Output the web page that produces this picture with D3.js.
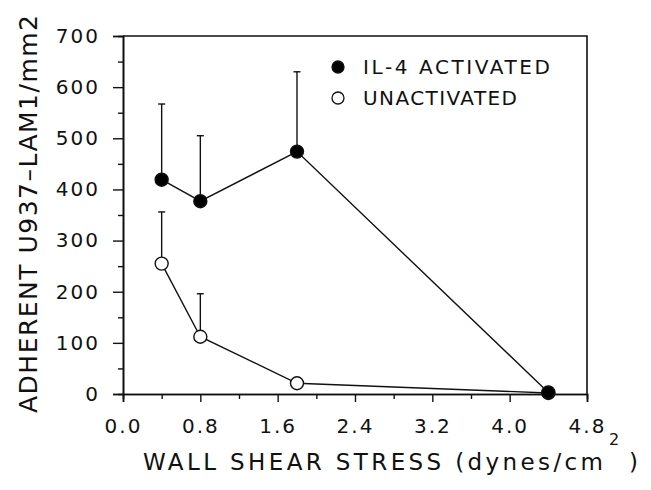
<!DOCTYPE html>
<html>
<head>
<meta charset="utf-8">
<script src="https://cdn.jsdelivr.net/npm/d3@7"></script>
<style>
  body { margin: 0; background: #fff; }
  svg { display: block; }
  text { font-family: "DejaVu Sans", sans-serif; fill: #111; }
</style>
</head>
<body>
<div id="chart"></div>
<script>
// shear stress (dynes/cm2)
const stress = [0.4, 0.8, 1.8, 4.4];
// adherent cells / mm2, mean and upper error bar
const activated = [419, 377, 474, 3];
const activatedErr = [567, 505, 630, 3];
const unactivated = [255, 112, 21, 2];
const unactivatedErr = [356, 196, 21, 2];
const xTicks = [0.0, 0.8, 1.6, 2.4, 3.2, 4.0, 4.8];
const yTicks = [0, 100, 200, 300, 400, 500, 600, 700];

const width = 651, height = 490;
const margin = { top: 36, right: 64, bottom: 96, left: 123 };
const innerW = width - margin.left - margin.right;
const innerH = height - margin.top - margin.bottom;

const svg = d3.select('#chart').append('svg')
  .attr('width', width)
  .attr('height', height);

const g = svg.append('g')
  .attr('transform', `translate(${margin.left},${margin.top})`);

const x = d3.scaleLinear().domain([0, 4.8]).range([0, innerW]);
const y = d3.scaleLinear().domain([0, 700]).range([innerH, 0]);

// frame: top and right
g.append('path')
  .attr('d', `M0,0 H${innerW} V${innerH}`)
  .attr('fill', 'none')
  .attr('stroke', '#111')
  .attr('stroke-width', 1.6);

// minor ticks
const xAxisMinor = d3.axisBottom(x).tickValues(d3.range(0.4, 4.8, 0.8)).tickSize(5).tickFormat('');
const yAxisMinor = d3.axisLeft(y).tickValues(d3.range(50, 700, 100)).tickSize(5).tickFormat('');

const xAxis = d3.axisBottom(x).tickValues(xTicks).tickSize(8).tickPadding(17)
  .tickFormat(d3.format('.1f'));
const yAxis = d3.axisLeft(y).tickValues(yTicks).tickSize(10).tickPadding(13)
  .tickFormat(d3.format('d'));

function styleAxis(sel) {
  sel.select('.domain').attr('stroke', '#111').attr('stroke-width', 1.6);
  sel.selectAll('line').attr('stroke', '#111').attr('stroke-width', 1.4);
  sel.selectAll('text')
    .style('font-size', '20px')
    .style('letter-spacing', '2px')
    .attr('fill', '#1a1a1a');
}

g.append('g').attr('transform', `translate(0,${innerH})`).call(xAxisMinor).call(styleAxis);
g.append('g').call(yAxisMinor).call(styleAxis);
g.append('g').attr('transform', `translate(0,${innerH})`).call(xAxis).call(styleAxis);
g.append('g').call(yAxis).call(styleAxis);

// series
const series = [
  { name: 'IL-4 ACTIVATED', values: activated, err: activatedErr, fill: '#000', len: 187 },
  { name: 'UNACTIVATED', values: unactivated, err: unactivatedErr, fill: '#fff', len: 154 }
];

const line = d3.line()
  .x((d, i) => x(stress[i]))
  .y(d => y(d));

const capW = 3.5;

series.slice().reverse().forEach(s => {
  const sg = g.append('g');
  sg.append('path')
    .datum(s.values)
    .attr('d', line)
    .attr('fill', 'none')
    .attr('stroke', '#111')
    .attr('stroke-width', 1.4);

  s.values.forEach((v, i) => {
    if (s.err[i] > v + 1) {
      sg.append('line')
        .attr('x1', x(stress[i])).attr('x2', x(stress[i]))
        .attr('y1', y(v)).attr('y2', y(s.err[i]))
        .attr('stroke', '#111').attr('stroke-width', 1.4);
      sg.append('line')
        .attr('x1', x(stress[i]) - capW).attr('x2', x(stress[i]) + capW)
        .attr('y1', y(s.err[i])).attr('y2', y(s.err[i]))
        .attr('stroke', '#111').attr('stroke-width', 1.4);
    }
  });

  sg.selectAll('circle')
    .data(s.values)
    .enter().append('circle')
    .attr('cx', (d, i) => x(stress[i]))
    .attr('cy', d => y(d))
    .attr('r', 6.5)
    .attr('fill', s.fill)
    .attr('stroke', '#111')
    .attr('stroke-width', 1.4);
});

// legend
const legend = g.append('g').attr('transform', `translate(${338 - margin.left},${67 - margin.top})`);
series.forEach((s, i) => {
  const row = legend.append('g').attr('transform', `translate(0,${i * 31})`);
  row.append('circle')
    .attr('r', 6)
    .attr('fill', s.fill)
    .attr('stroke', '#111')
    .attr('stroke-width', 1.3);
  row.append('text')
    .attr('x', 25)
    .attr('y', 7)
    .attr('textLength', s.len)
    .attr('lengthAdjust', 'spacing')
    .style('font-size', '20px')
    .text(s.name);
});

// axis titles
const xTitle = svg.append('text')
  .attr('y', 470)
  .style('font-size', '23px');
xTitle.append('tspan')
  .attr('x', 143)
  .attr('textLength', 460)
  .attr('lengthAdjust', 'spacing')
  .text('WALL SHEAR STRESS (dynes/cm');
xTitle.append('tspan').attr('x', 609).attr('dy', -25).style('font-size', '16px').text('2');
xTitle.append('tspan').attr('x', 629).attr('dy', 25).text(')');

svg.append('text')
  .attr('transform', 'translate(37,413) rotate(-90)')
  .attr('textLength', 398)
  .attr('lengthAdjust', 'spacing')
  .style('font-size', '25px')
  .text('ADHERENT U937\u2013LAM1/mm2');
</script>
</body>
</html>
